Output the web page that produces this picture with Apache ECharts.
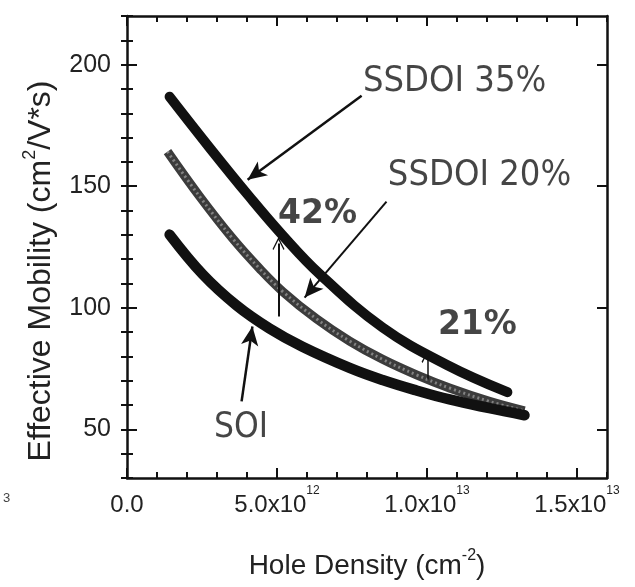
<!DOCTYPE html>
<html>
<head>
<meta charset="utf-8">
<script src="https://cdn.jsdelivr.net/npm/echarts@6/dist/echarts.min.js"></script>
<style>
  html, body { margin: 0; padding: 0; background: #fff; }
  #chart { width: 635px; height: 587px; }
</style>
</head>
<body>
<div id="chart"></div>
<script>
// hole density (cm^-2) vs effective mobility (cm2/V*s)
const ss35Density = [1.42e12, 2.75e12, 4.08e12, 5.18e12, 6.42e12, 8.52e12, 10.65e12, 12.68e12];
const ss35Mobility = [186.8, 165.9, 145.7, 129.9, 113.9, 91.9, 76.6, 65.3];

const ss20Density = [1.35e12, 2.42e12, 3.52e12, 4.42e12, 5.18e12, 6.32e12, 7.42e12, 8.52e12, 9.65e12, 10.75e12, 12.08e12, 13.25e12];
const ss20Mobility = [164.2, 145.8, 128.5, 116.1, 106.8, 95.4, 86.3, 78.8, 72.4, 67.0, 61.5, 57.6];

const soiDensity = [1.42e12, 2.52e12, 3.65e12, 4.75e12, 5.85e12, 7.42e12, 8.52e12, 9.65e12, 10.75e12, 12.08e12, 13.25e12];
const soiMobility = [130.1, 113.8, 101.0, 91.5, 84.0, 75.3, 70.3, 66.0, 62.3, 58.7, 55.8];

// tick labels
const xTickValues = [0, 5e12, 1e13, 1.5e13];
const xTickMantissa = ['0.0', '5.0x10', '1.0x10', '1.5x10'];
const xTickExponent = ['', '12', '13', '13'];
const yTickValues = [50, 100, 150, 200];

// annotations (data coordinates)
const noteTexts = ['SSDOI 35%', 'SSDOI 20%', 'SOI', '42%', '21%'];
const noteX = [10.92e12, 11.75e12, 3.8e12, 6.35e12, 11.68e12];
const noteY = [193.2, 154.4, 50.4, 138.4, 92.6];
const noteBold = [false, false, false, true, true];

const arrowFrom = [[7.82e12, 187.2], [8.65e12, 143.7], [5.05e12, 96.4], [10.02e12, 70.5], [3.82e12, 61.5]];
const arrowTo = [[4.02e12, 152.7], [5.92e12, 104.2], [5.05e12, 126.4], [10.02e12, 80.0], [4.18e12, 92.3]];
const arrowOpen = [false, false, true, true, false];
const arrowWidth = [2.5, 2, 2, 1.5, 2.5];

function zip(xs, ys) {
  return xs.map(function (x, i) { return [x, ys[i]]; });
}

const ink = '#111';
const labelFont = 'Liberation Sans';
const chevron = 'path://M0,0 L10,12 L8.4,13.2 L0,3 L-8.4,13.2 L-10,12 Z';

const chart = echarts.init(document.getElementById('chart'));

const hidden = { show: false };
function tickAxis(pos, opts) {
  return Object.assign({
    type: 'value',
    position: pos,
    axisLine: hidden,
    axisLabel: hidden,
    splitLine: hidden,
    silent: true
  }, opts);
}

const option = {
  backgroundColor: '#fff',
  animation: false,
  grid: { left: 127, right: 28, top: 16, bottom: 109 },
  xAxis: [
    tickAxis('bottom', {
      min: 0, max: 16e12,
      axisLine: { show: true, onZero: false, lineStyle: { color: ink, width: 2.5 } },
      axisTick: { inside: true, length: 10, lineStyle: { color: ink, width: 2 }, customValues: xTickValues },
      axisLabel: {
        show: true,
        margin: 7,
        customValues: xTickValues,
        formatter: function (v) {
          let i = xTickValues.findIndex(function (t) { return Math.abs(t - v) < 1e9; });
          if (i < 0) return '';
          let s = '{m|' + xTickMantissa[i] + '}';
          if (xTickExponent[i]) s += '{e|' + xTickExponent[i] + '}';
          return s;
        },
        rich: {
          m: { fontFamily: labelFont, fontSize: 24, lineHeight: 40, color: '#222' },
          e: { fontFamily: labelFont, fontSize: 12, lineHeight: 12, verticalAlign: 'top', color: '#222' }
        }
      },
      name: '{a|Hole Density (cm}{s|-2}{a|)}',
      nameLocation: 'middle',
      nameGap: 70,
      nameTextStyle: {
        rich: {
          a: { fontFamily: labelFont, fontSize: 28, lineHeight: 36, color: '#222' },
          s: { fontFamily: labelFont, fontSize: 16, lineHeight: 16, verticalAlign: 'top', color: '#222' }
        }
      }
    }),
    tickAxis('bottom', {
      min: 0, max: 16e12, interval: 1e12,
      axisTick: { inside: true, length: 6, lineStyle: { color: ink, width: 2 } }
    }),
    tickAxis('top', {
      min: 0, max: 16e12,
      axisLine: { show: true, onZero: false, lineStyle: { color: ink, width: 2.5 } },
      axisTick: { inside: true, length: 10, lineStyle: { color: ink, width: 2 }, customValues: xTickValues }
    }),
    tickAxis('top', {
      min: 0, max: 16e12, interval: 1e12,
      axisTick: { inside: true, length: 6, lineStyle: { color: ink, width: 2 } }
    })
  ],
  yAxis: [
    tickAxis('left', {
      min: 30, max: 220,
      axisLine: { show: true, onZero: false, lineStyle: { color: ink, width: 2.5 } },
      axisTick: { inside: true, length: 10, lineStyle: { color: ink, width: 2 }, customValues: yTickValues },
      axisLabel: {
        show: true,
        margin: 16,
        customValues: yTickValues,
        fontFamily: labelFont,
        fontSize: 25,
        color: '#222'
      },
      name: '{a|Effective Mobility (cm}{s|2}{a|/V*s)}',
      nameLocation: 'middle',
      nameRotate: 90,
      nameGap: 66,
      nameTextStyle: {
        padding: [0, 48, 0, 0],
        rich: {
          a: { fontFamily: labelFont, fontSize: 32, lineHeight: 40, color: '#222' },
          s: { fontFamily: labelFont, fontSize: 18, lineHeight: 18, verticalAlign: 'top', color: '#222' }
        }
      }
    }),
    tickAxis('left', {
      min: 30, max: 220, interval: 10,
      axisTick: { inside: true, length: 6, lineStyle: { color: ink, width: 2 } }
    }),
    tickAxis('right', {
      min: 30, max: 220,
      axisLine: { show: true, onZero: false, lineStyle: { color: ink, width: 2.5 } },
      axisTick: { inside: true, length: 10, lineStyle: { color: ink, width: 2 }, customValues: yTickValues }
    }),
    tickAxis('right', {
      min: 30, max: 220, interval: 10,
      axisTick: { inside: true, length: 6, lineStyle: { color: ink, width: 2 } }
    })
  ],
  series: [
    {
      name: 'SSDOI 35%',
      type: 'line',
      data: zip(ss35Density, ss35Mobility),
      smooth: 0.4,
      symbol: 'none',
      silent: true,
      lineStyle: { color: ink, width: 10, cap: 'round' }
    },
    {
      name: 'SSDOI 20%',
      type: 'line',
      data: zip(ss20Density, ss20Mobility),
      smooth: 0.4,
      symbol: 'none',
      silent: true,
      lineStyle: { color: '#3c3c3c', width: 9, cap: 'butt' }
    },
    {
      // speckled core of the grey curve
      name: 'SSDOI 20% core',
      type: 'line',
      data: zip(ss20Density, ss20Mobility),
      smooth: 0.4,
      symbol: 'none',
      silent: true,
      lineStyle: { color: 'rgba(200,200,200,0.5)', width: 3, type: [2, 3], cap: 'butt' }
    },
    {
      name: 'SOI',
      type: 'line',
      data: zip(soiDensity, soiMobility),
      smooth: 0.4,
      symbol: 'none',
      silent: true,
      lineStyle: { color: ink, width: 10.5, cap: 'round' }
    },
    {
      name: 'notes',
      type: 'scatter',
      silent: true,
      symbolSize: 0,
      data: noteTexts.map(function (t, i) {
        return {
          value: [noteX[i], noteY[i]],
          label: {
            show: true,
            position: 'inside',
            formatter: t,
            color: '#161616',
            fontFamily: noteBold[i] ? 'DejaVu Sans' : 'DejaVu Sans Condensed',
            fontWeight: noteBold[i] ? 'bold' : 'normal',
            fontSize: noteBold[i] ? 33 : (t === 'SOI' ? 35 : 36)
          }
        };
      }),
      markLine: {
        silent: true,
        animation: false,
        label: { show: false },
        emphasis: { disabled: true },
        data: arrowFrom.map(function (p, i) {
          return [
            { coord: p, symbol: 'none', lineStyle: { color: ink, width: arrowWidth[i], type: 'solid' } },
            { coord: arrowTo[i], symbol: arrowOpen[i] ? chevron : 'arrow', symbolSize: arrowOpen[i] ? [12, 13] : [13, 19] }
          ];
        })
      }
    }
  ],
  graphic: [
    // clipped fragment of a tick label at the left edge of the scan
    { type: 'text', left: 3, top: 492, style: { text: '3', font: '13px "Liberation Sans"', fill: '#444' } }
  ]
};

chart.setOption(option);
</script>
</body>
</html>
